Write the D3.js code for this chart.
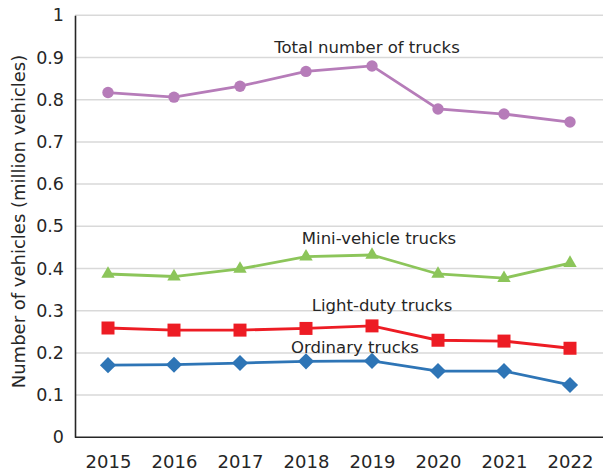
<!DOCTYPE html>
<html><head><meta charset="utf-8">
<script src="https://cdn.jsdelivr.net/npm/d3@7"></script>
<style>body{margin:0;background:#fff;}svg{display:block;font-family:"DejaVu Sans",Verdana,sans-serif;}</style>
</head><body><svg id="c" width="603" height="474"></svg>
<script>
const years = ["2015","2016","2017","2018","2019","2020","2021","2022"];
const totalTrucks = [0.817,0.806,0.832,0.867,0.880,0.778,0.766,0.747];
const miniTrucks = [0.387,0.381,0.399,0.428,0.432,0.387,0.377,0.413];
const lightTrucks = [0.259,0.254,0.254,0.258,0.264,0.230,0.228,0.211];
const ordinaryTrucks = [0.171,0.172,0.176,0.180,0.181,0.157,0.157,0.124];
const yTicks = [0,0.1,0.2,0.3,0.4,0.5,0.6,0.7,0.8,0.9,1];
const seriesNames = ["Total number of trucks","Mini-vehicle trucks","Light-duty trucks","Ordinary trucks"];

const svg = d3.select("#c");
const mLeft = 75, mRight = 603, mTop = 15.3, mBottom = 437.3;
const x = d3.scalePoint().domain(years).range([mLeft, mRight]).padding(0.5);
const y = d3.scaleLinear().domain([0,1]).range([mBottom, mTop]);
const txt = "#262626";

// gridlines
svg.append("g").selectAll("line").data(yTicks.filter(d=>d>0)).join("line")
  .attr("x1", mLeft).attr("x2", mRight).attr("y1", d=>y(d)).attr("y2", d=>y(d))
  .attr("stroke", "#d9d9d9").attr("stroke-width", 1.5);

// y axis
const yAxis = d3.axisLeft(y).tickValues(yTicks).tickFormat(d=>String(+d.toFixed(1))).tickSize(0).tickPadding(11);
const gy = svg.append("g").attr("transform", `translate(${mLeft},0)`).call(yAxis);
gy.select(".domain").attr("stroke", txt).attr("stroke-width", 1.6);
gy.selectAll("text").attr("font-size", 17.5).attr("fill", txt).attr("font-family","DejaVu Sans, Verdana, sans-serif");

// x axis
const xAxis = d3.axisBottom(x).tickSize(0).tickPadding(18);
const gx = svg.append("g").attr("transform", `translate(0,${mBottom})`).call(xAxis);
gx.select(".domain").attr("stroke", txt).attr("stroke-width", 1.6).attr("d", `M${mLeft},0H${mRight}`);
gx.selectAll("text").attr("font-size", 18).attr("fill", txt).attr("font-family","DejaVu Sans, Verdana, sans-serif");

// y title
svg.append("text").attr("transform", `translate(25,221.5) rotate(-90)`)
  .attr("text-anchor","middle").attr("font-size",18).attr("fill",txt)
  .text("Number of vehicles (million vehicles)");

const line = d3.line().x((d,i)=>x(years[i])).y(d=>y(d));
const diamond = { draw(ctx, size) { const r = Math.sqrt(size/2); ctx.moveTo(0,-r); ctx.lineTo(r,0); ctx.lineTo(0,r); ctx.lineTo(-r,0); ctx.closePath(); } };

function drawSeries(vals, color, shape, size) {
  const g = svg.append("g");
  g.append("path").datum(vals).attr("d", line).attr("fill","none").attr("stroke", color).attr("stroke-width", 2.8);
  g.selectAll("path.m").data(vals).join("path").attr("class","m")
    .attr("transform", (d,i)=>`translate(${x(years[i])},${y(d)})`)
    .attr("d", d3.symbol().type(shape).size(size)).attr("fill", color);
}
drawSeries(totalTrucks, "#b67cb9", d3.symbolCircle, 102);
drawSeries(miniTrucks, "#8cc55a", d3.symbolTriangle, 78);
drawSeries(lightTrucks, "#ed1c24", d3.symbolSquare, 169);
drawSeries(ordinaryTrucks, "#2e75b6", diamond, 130);

// series labels
const labelPos = [[367,47],[379,238],[382,305],[355,347]];
svg.append("g").selectAll("text").data(seriesNames).join("text")
  .attr("x",(d,i)=>labelPos[i][0]).attr("y",(d,i)=>labelPos[i][1]).attr("dy","0.35em")
  .attr("text-anchor","middle").attr("font-size",16.5).attr("fill",txt).text(d=>d);
</script></body></html>
